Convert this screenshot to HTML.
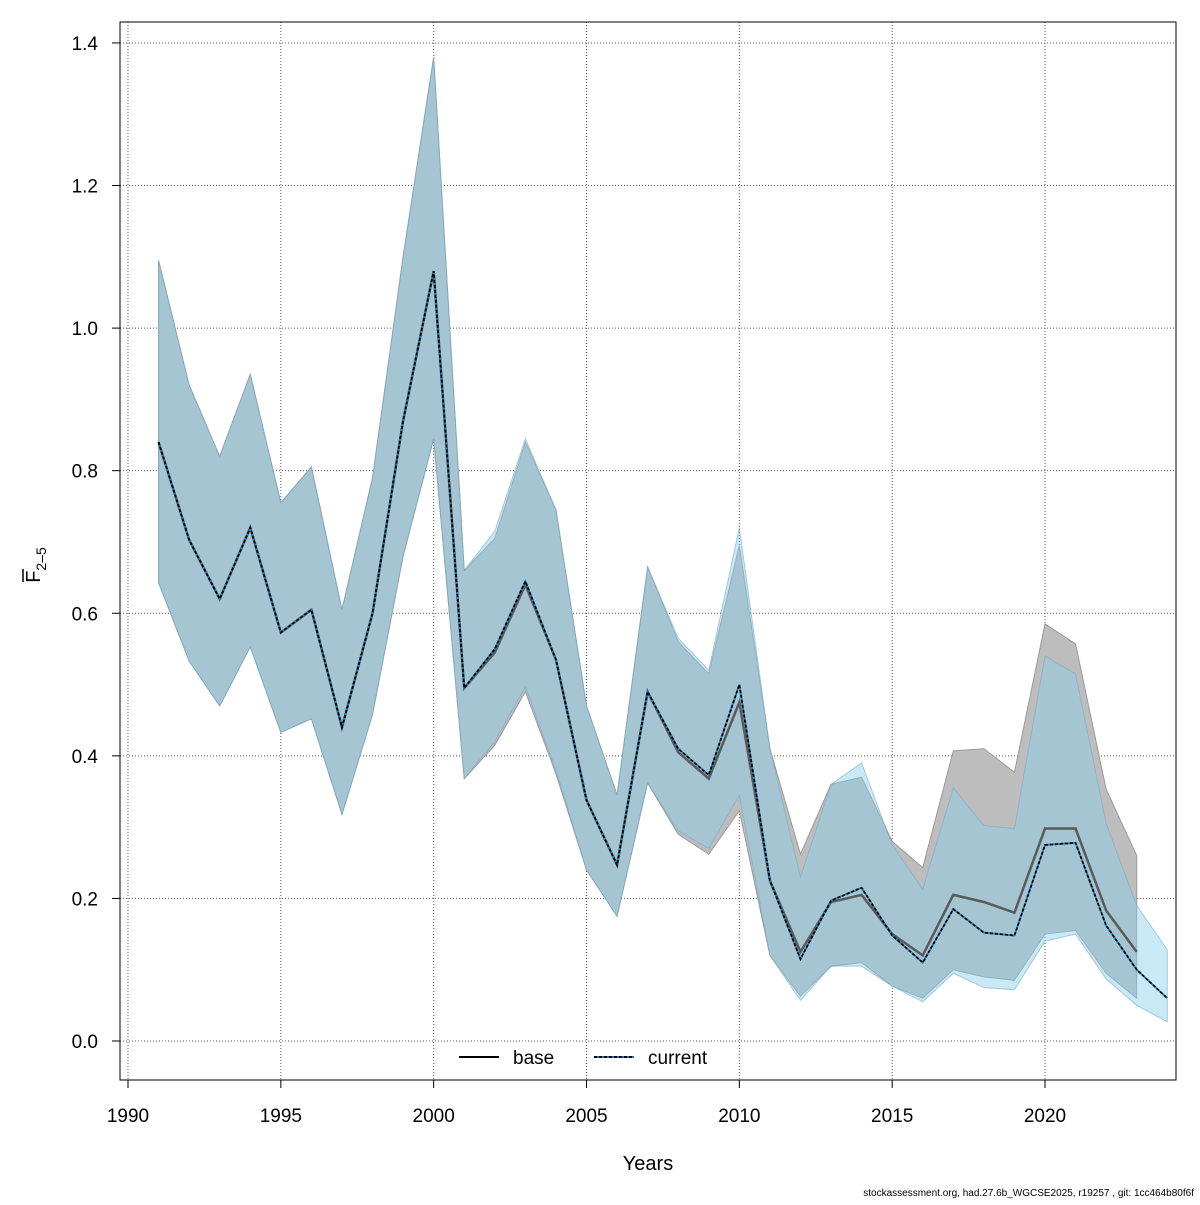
<!DOCTYPE html>
<html><head><meta charset="utf-8"><style>
body{margin:0;background:#fff}
svg text{font-family:"Liberation Sans",Arial,sans-serif}
</style></head><body>
<svg id="chart" width="1200" height="1200" viewBox="0 0 1200 1200" xmlns="http://www.w3.org/2000/svg">
<rect width="1200" height="1200" fill="#fff"/>
<g id="grid"></g><g id="bands"></g><g id="lines"></g><g id="axes"></g>
<text x="648" y="1170" font-size="20" text-anchor="middle">Years</text>
<g transform="translate(40,565) rotate(-90)">
<text x="0" y="0" font-size="20" text-anchor="middle">F<tspan font-size="14" dy="6">2–5</tspan></text>
<line x1="-17" y1="-17" x2="-4" y2="-17" stroke="#000" stroke-width="1.5"/>
</g>
<text x="1194" y="1196" font-size="10" text-anchor="end">stockassessment.org, had.27.6b_WGCSE2025, r19257 , git: 1cc464b80f6f</text>
<g>
<g><line x1="459" y1="1057" x2="499" y2="1057" stroke="#000" stroke-width="2"/><text x="513" y="1064" font-size="19">base</text></g>
<g><line x1="594" y1="1057" x2="634" y2="1057" stroke="#1f78b4" stroke-width="2"/><line x1="594" y1="1057" x2="634" y2="1057" stroke="#000" stroke-width="2" stroke-dasharray="3,2"/><text x="648" y="1064" font-size="19">current</text></g>
</g>
</svg>
<script>
const years=[1991,1992,1993,1994,1995,1996,1997,1998,1999,2000,2001,2002,2003,2004,2005,2006,2007,2008,2009,2010,2011,2012,2013,2014,2015,2016,2017,2018,2019,2020,2021,2022,2023,2024];
const curMean=[0.84,0.703,0.62,0.72,0.573,0.605,0.44,0.60,0.87,1.08,0.495,0.55,0.645,0.535,0.338,0.247,0.49,0.41,0.373,0.50,0.225,0.115,0.197,0.215,0.148,0.11,0.185,0.152,0.148,0.275,0.278,0.162,0.10,0.06];
const curUp=[1.095,0.92,0.82,0.935,0.755,0.805,0.605,0.79,1.10,1.38,0.66,0.715,0.845,0.745,0.47,0.345,0.665,0.565,0.52,0.72,0.41,0.23,0.36,0.39,0.275,0.213,0.355,0.302,0.298,0.54,0.515,0.305,0.19,0.128];
const curLo=[0.643,0.533,0.47,0.553,0.433,0.452,0.318,0.458,0.68,0.845,0.368,0.42,0.497,0.38,0.24,0.175,0.362,0.295,0.27,0.345,0.12,0.057,0.105,0.105,0.077,0.055,0.095,0.075,0.072,0.14,0.15,0.087,0.05,0.027];
const baseYears=years.slice(0,33);
const baseMean=[0.84,0.703,0.62,0.72,0.573,0.605,0.44,0.60,0.87,1.08,0.495,0.545,0.64,0.535,0.338,0.247,0.49,0.405,0.368,0.475,0.225,0.125,0.195,0.205,0.15,0.12,0.205,0.195,0.18,0.298,0.298,0.183,0.125];
const baseUp=[1.095,0.92,0.82,0.935,0.755,0.805,0.605,0.79,1.10,1.38,0.66,0.705,0.84,0.745,0.47,0.345,0.665,0.56,0.515,0.695,0.41,0.262,0.36,0.37,0.28,0.243,0.407,0.41,0.377,0.585,0.557,0.353,0.26];
const baseLo=[0.643,0.533,0.47,0.553,0.433,0.452,0.318,0.458,0.68,0.845,0.368,0.415,0.49,0.375,0.24,0.175,0.362,0.29,0.262,0.323,0.12,0.063,0.105,0.11,0.077,0.06,0.10,0.09,0.085,0.15,0.155,0.095,0.06];
const xTicks=[1990,1995,2000,2005,2010,2015,2020];
const yTicks=[0.0,0.2,0.4,0.6,0.8,1.0,1.2,1.4];
const NS="http://www.w3.org/2000/svg";
const L=120,R=1176,T=22,B=1080;
const X=v=>128+(v-1990)*(1045-128)/30;
const Y=v=>1041-v*712.9;
function mk(p,tag,at){const e=document.createElementNS(NS,tag);for(const k in at)e.setAttribute(k,at[k]);p.appendChild(e);return e;}
const g=document.getElementById('grid'),bd=document.getElementById('bands'),ln=document.getElementById('lines'),ax=document.getElementById('axes');
xTicks.forEach(t=>{const e=mk(g,'line',{x1:X(t),x2:X(t),y1:T,y2:B,stroke:'#555','stroke-dasharray':'1,2'});

});
yTicks.forEach(t=>{const e=mk(g,'line',{x1:L,x2:R,y1:Y(t),y2:Y(t),stroke:'#555','stroke-dasharray':'1,2'});

});
function band(xs,up,lo,fill,stroke){let d='';xs.forEach((x,i)=>d+=(i?'L':'M')+X(x)+','+Y(up[i]));for(let i=xs.length-1;i>=0;i--)d+='L'+X(xs[i])+','+Y(lo[i]);d+='Z';return mk(bd,'path',{d:d,fill:fill,stroke:stroke,'stroke-width':1});}
const b1=band(baseYears,baseUp,baseLo,'#bdbdbd','#9a9a9a');


const b2=band(years,curUp,curLo,'rgba(135,206,235,0.45)','rgba(120,170,200,0.6)');


function pts(xs,v){return xs.map((x,i)=>X(x)+','+Y(v[i])).join(' ');}
const l1=mk(ln,'polyline',{points:pts(baseYears,baseMean),fill:'none',stroke:'#5a5a5a','stroke-width':2.5});


const l2a=mk(ln,'polyline',{points:pts(years,curMean),fill:'none',stroke:'#1f78b4','stroke-width':1.8});


const l2=mk(ln,'polyline',{points:pts(years,curMean),fill:'none',stroke:'#000','stroke-width':1.8,'stroke-dasharray':'3,2'});


const box=mk(ax,'rect',{x:L,y:T,width:R-L,height:B-T,fill:'none',stroke:'#000','stroke-width':1});


mk(ax,'line',{x1:X(1990),x2:X(2020),y1:B,y2:B,stroke:'#000'});
xTicks.forEach(t=>{mk(ax,'line',{x1:X(t),x2:X(t),y1:B,y2:B+8,stroke:'#000'});
const e=mk(ax,'text',{x:X(t),y:B+42,'font-size':19,'text-anchor':'middle'});e.textContent=t;

});
mk(ax,'line',{x1:L,x2:L,y1:Y(0),y2:Y(1.4),stroke:'#000'});
yTicks.forEach(t=>{mk(ax,'line',{x1:L-8,x2:L,y1:Y(t),y2:Y(t),stroke:'#000'});
const e=mk(ax,'text',{x:L-22,y:Y(t)+7,'font-size':19,'text-anchor':'end'});e.textContent=t.toFixed(1);

});
</script>
</body></html>
